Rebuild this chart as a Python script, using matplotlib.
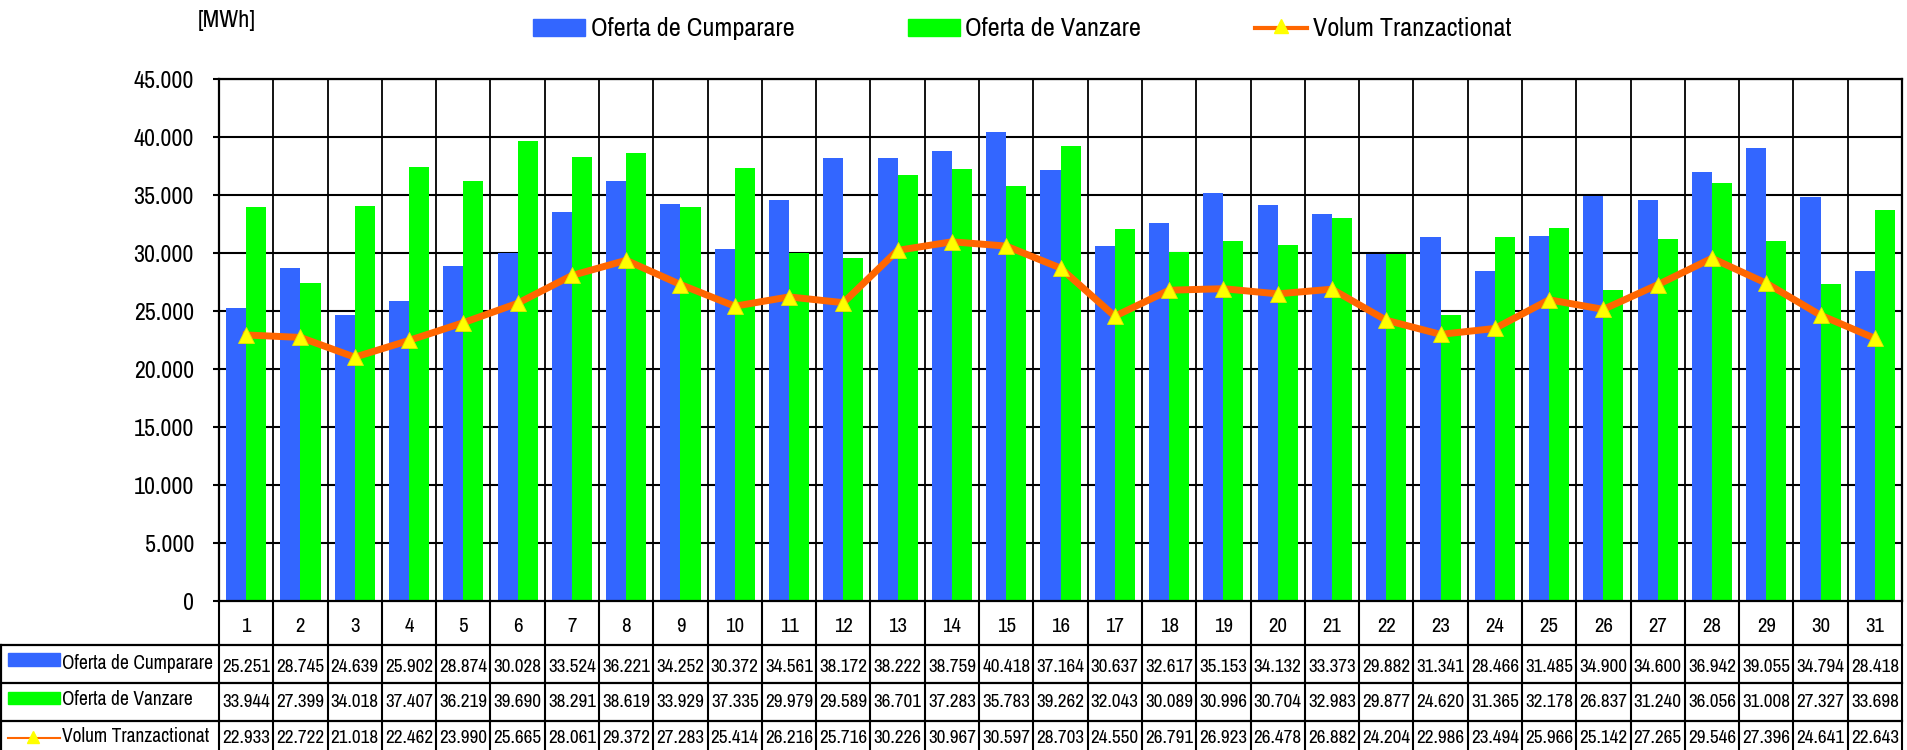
import matplotlib
matplotlib.use("Agg")
import matplotlib.pyplot as plt
from matplotlib import font_manager
from matplotlib.patches import Rectangle

# ---------------- data ----------------
days = [str(d) for d in range(1, 32)]
series_names = ["Oferta de Cumparare", "Oferta de Vanzare", "Volum Tranzactionat"]
cumparare = [25.251, 28.745, 24.639, 25.902, 28.874, 30.028, 33.524, 36.221, 34.252, 30.372,
             34.561, 38.172, 38.222, 38.759, 40.418, 37.164, 30.637, 32.617, 35.153, 34.132,
             33.373, 29.882, 31.341, 28.466, 31.485, 34.900, 34.600, 36.942, 39.055, 34.794, 28.418]
vanzare = [33.944, 27.399, 34.018, 37.407, 36.219, 39.690, 38.291, 38.619, 33.929, 37.335,
           29.979, 29.589, 36.701, 37.283, 35.783, 39.262, 32.043, 30.089, 30.996, 30.704,
           32.983, 29.877, 24.620, 31.365, 32.178, 26.837, 31.240, 36.056, 31.008, 27.327, 33.698]
volum = [22.933, 22.722, 21.018, 22.462, 23.990, 25.665, 28.061, 29.372, 27.283, 25.414,
         26.216, 25.716, 30.226, 30.967, 30.597, 28.703, 24.550, 26.791, 26.923, 26.478,
         26.882, 24.204, 22.986, 23.494, 25.966, 25.142, 27.265, 29.546, 27.396, 24.641, 22.643]
y_ticks = [0, 5000, 10000, 15000, 20000, 25000, 30000, 35000, 40000, 45000]
unit_label = "[MWh]"

# values in MWh (the table prints thousands with '.' as separator)
cump_mwh = [v * 1000 for v in cumparare]
vanz_mwh = [v * 1000 for v in vanzare]
vol_mwh = [v * 1000 for v in volum]


def fmt_val(v):
    return f"{v:.3f}"


def fmt_tick(v):
    return f"{int(v):,}".replace(",", ".")


# ---------------- style ----------------
BLUE = "#3366FF"
GREEN = "#00FF00"
ORANGE = "#FF6600"
YELLOW = "#FFFF00"

installed = {f.name for f in font_manager.fontManager.ttflist}
candidates = ["Liberation Sans Narrow", "Arial Narrow", "Archivo Narrow", "Roboto Condensed",
              "PT Sans Narrow", "Pragati Narrow", "Fira Sans Condensed", "Liberation Sans"]
main_font = next(c for c in candidates if c in installed)
FONT = [main_font, "DejaVu Sans"]
plt.rcParams["font.family"] = FONT

W, H = 1907, 750
fig = plt.figure(figsize=(W / 100, H / 100), dpi=100)
renderer = fig.canvas.get_renderer()


def fit_size(sample, target_px):
    """font size (pt) giving the reference's width for a sample string"""
    t = fig.text(0, 0, sample, fontsize=20)
    w = t.get_window_extent(renderer).width
    t.remove()
    return 20 * target_px / w


fs_legend = fit_size("Oferta de Cumparare", 203)
fs_rowlab = fit_size("Oferta de Cumparare", 151)
fs_value = fit_size("25.251", 48)
fs_tick = fit_size("45.000", 60)
fs_cat = fit_size("27", 19)
fs_unit = fit_size("[MWh]", 58)

L, R, T, B = 219, 1902, 79, 601
ax = fig.add_axes([L / W, (H - B) / H, (R - L) / W, (B - T) / H])
n = len(days)
x = list(range(n))
bw = 0.37
ax.bar([i - bw / 2 for i in x], cump_mwh, width=bw, color=BLUE, zorder=2, linewidth=0)
ax.bar([i + bw / 2 for i in x], vanz_mwh, width=bw, color=GREEN, zorder=2, linewidth=0)
ax.plot(x, vol_mwh, color=ORANGE, lw=5, zorder=3, solid_joinstyle="round")
ax.plot(x, vol_mwh, ls="none", marker="^", ms=11, mfc=YELLOW, mec="#E6E600", mew=0.6, zorder=4)

ax.set_xlim(-0.5, n - 0.5)
ax.set_ylim(0, 45000)
ax.set_yticks(y_ticks)
ax.set_yticklabels([fmt_tick(v) for v in y_ticks], fontsize=fs_tick)
ax.tick_params(axis="y", direction="out", length=4.5, width=1.5, pad=13.5, color="black")
ax.set_xticks([])
for yv in y_ticks[1:]:
    ax.axhline(yv, color="black", lw=1.5, zorder=1)
for k in range(n - 1):
    ax.axvline(k + 0.5, color="black", lw=1.3, zorder=1)
for sp in ax.spines.values():
    sp.set_color("black")
    sp.set_linewidth(1.6)

# ---------------- category row + data table ----------------
tax = fig.add_axes([L / W, 0, (R - L) / W, (H - B) / H])
tax.set_xlim(-0.5, n - 0.5)
tax.set_ylim(H, B)
tax.axis("off")
lax = fig.add_axes([0, 0, L / W, (H - B) / H])
lax.set_xlim(0, L)
lax.set_ylim(H, B)
lax.axis("off")

row_lines = [645, 683, 721]
for k in range(n + 1):
    tax.plot([k - 0.5, k - 0.5], [B, H], color="black", lw=1.5, clip_on=False)
for yl in row_lines:
    tax.plot([-0.5, n - 0.5], [yl, yl], color="black", lw=1.6, clip_on=False)
    lax.plot([0, L], [yl, yl], color="black", lw=1.6, clip_on=False)
lax.plot([1, 1], [row_lines[0], H], color="black", lw=1.6, clip_on=False)

for i, d in enumerate(days):
    tax.text(i, 632, d, ha="center", va="baseline", fontsize=fs_cat)

baselines = [672, 707, 743]
for vals, yb in zip([cumparare, vanzare, volum], baselines):
    for i, v in enumerate(vals):
        tax.text(i, yb, fmt_val(v), ha="center", va="baseline", fontsize=fs_value)

lab_base = [669, 705, 742]
lax.add_patch(Rectangle((8, 653), 52, 13, color=BLUE, clip_on=False))
lax.add_patch(Rectangle((8, 692), 52, 12, color=GREEN, clip_on=False))
lax.plot([8, 60], [738, 738], color=ORANGE, lw=1.5, clip_on=False)
lax.plot([33], [737], marker="^", ms=9, mfc=YELLOW, mec=YELLOW, clip_on=False)
for name, yb in zip(series_names, lab_base):
    lax.text(62, yb, name, ha="left", va="baseline", fontsize=fs_rowlab)

# ---------------- top legend + unit ----------------
oax = fig.add_axes([0, 0, 1, 1])
oax.set_xlim(0, W)
oax.set_ylim(H, 0)
oax.axis("off")
oax.add_patch(Rectangle((533, 19), 52, 17, color=BLUE))
oax.text(591, 36, series_names[0], ha="left", va="baseline", fontsize=fs_legend)
oax.add_patch(Rectangle((908, 19), 52, 17, color=GREEN))
oax.text(965, 36, series_names[1], ha="left", va="baseline", fontsize=fs_legend)
oax.plot([1255, 1307], [28, 28], color=ORANGE, lw=3)
oax.plot([1281], [26], marker="^", ms=10, mfc=YELLOW, mec=YELLOW)
oax.text(1313, 36, series_names[2], ha="left", va="baseline", fontsize=fs_legend)
oax.text(198, 27, unit_label, ha="left", va="baseline", fontsize=fs_unit)

fig.savefig("out.png", dpi=100)
